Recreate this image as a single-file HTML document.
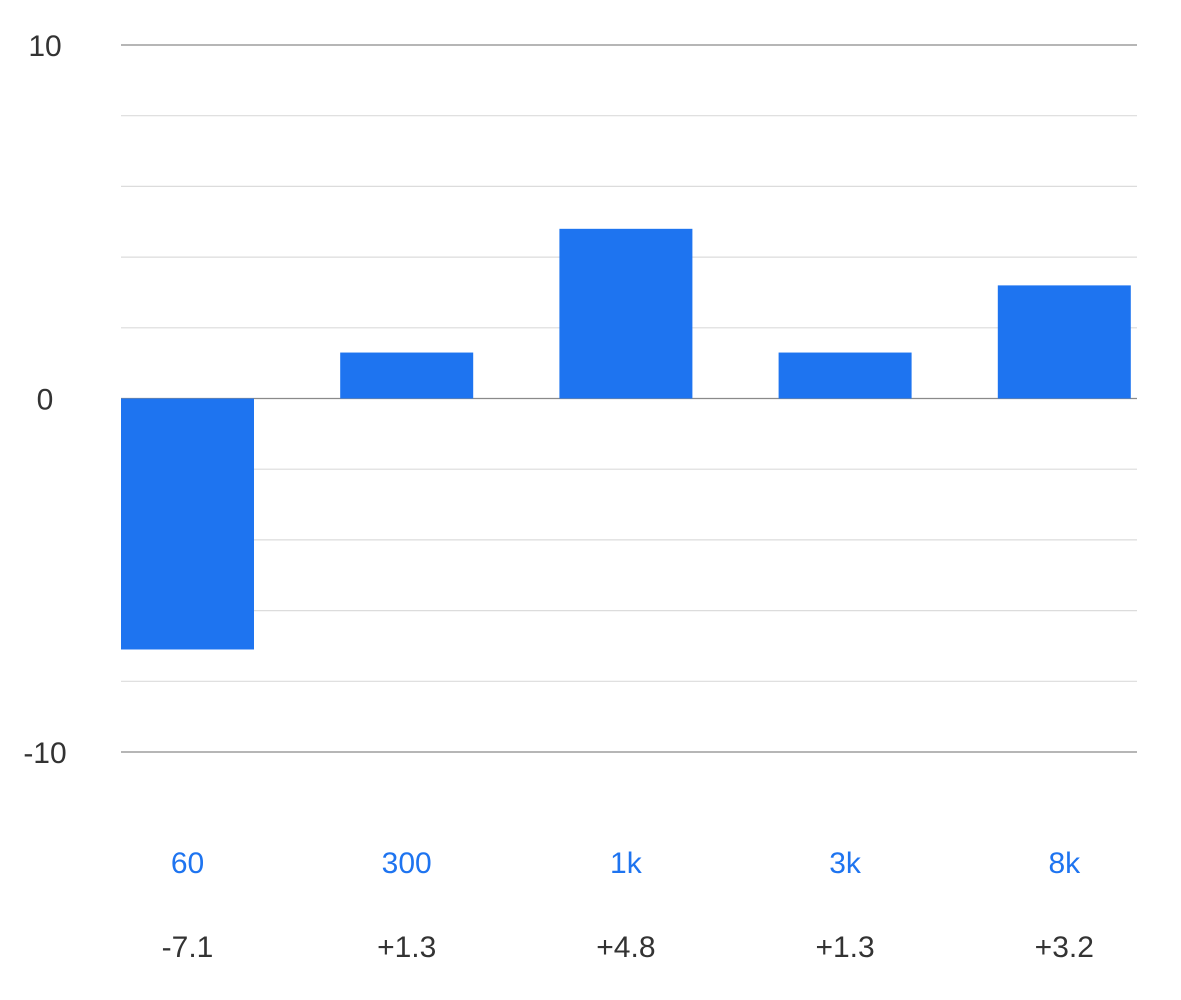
<!DOCTYPE html>
<html><head><meta charset="utf-8"><style>
body{margin:0;background:#fff;}
svg{display:block;font-family:"Liberation Sans",sans-serif;}
</style></head><body>
<svg id="chart" width="1181" height="1000" viewBox="0 0 1181 1000"></svg>
<script>
const categories = ["60","300","1k","3k","8k"];
const values = [-7.1, 1.3, 4.8, 1.3, 3.2];
const valueLabels = ["-7.1","+1.3","+4.8","+1.3","+3.2"];
const yTicks = [10, 0, -10];
const gridTicks = [10,8,6,4,2,0,-2,-4,-6,-8,-10];

const svg = document.getElementById('chart');
const NS = 'http://www.w3.org/2000/svg';
const x0 = 121, x1 = 1137, yTop = 45, yBot = 752, vMax = 10, vMin = -10;
const y = v => yTop + (vMax - v) * (yBot - yTop) / (vMax - vMin);
const slot = (x1 - x0 + 80) / categories.length;
const barW = 133;
const bx = i => x0 + i * slot;
function mk(tag, attrs){const e=document.createElementNS(NS,tag);for(const k in attrs)e.setAttribute(k,attrs[k]);svg.appendChild(e);return e;}

gridTicks.forEach(t=>{
  const major = (t===10||t===0||t===-10);
  const l = mk('line',{x1:x0,x2:x1,y1:y(t),y2:y(t),stroke:major?'#8a8a8a':'#dcdcdc','stroke-width':1.2});
  
  
});
yTicks.forEach(t=>{
  const tx = mk('text',{x:45,y:y(t)+11,'text-anchor':'middle','font-size':30,fill:'#333'});
  tx.textContent = String(t);
  
  
});
values.forEach((v,i)=>{
  const top = Math.min(y(v), y(0)), h = Math.abs(y(v)-y(0));
  const r = mk('rect',{x:bx(i),y:top,width:barW,height:h,fill:'#1e74f0'});
  
  
  const c = mk('text',{x:bx(i)+barW/2,y:873,'text-anchor':'middle','font-size':30,fill:'#1e74f0'});
  c.textContent = categories[i];
  
  
  const vl = mk('text',{x:bx(i)+barW/2,y:957,'text-anchor':'middle','font-size':30,fill:'#333'});
  vl.textContent = valueLabels[i];
  
  
});
</script>
</body></html>
